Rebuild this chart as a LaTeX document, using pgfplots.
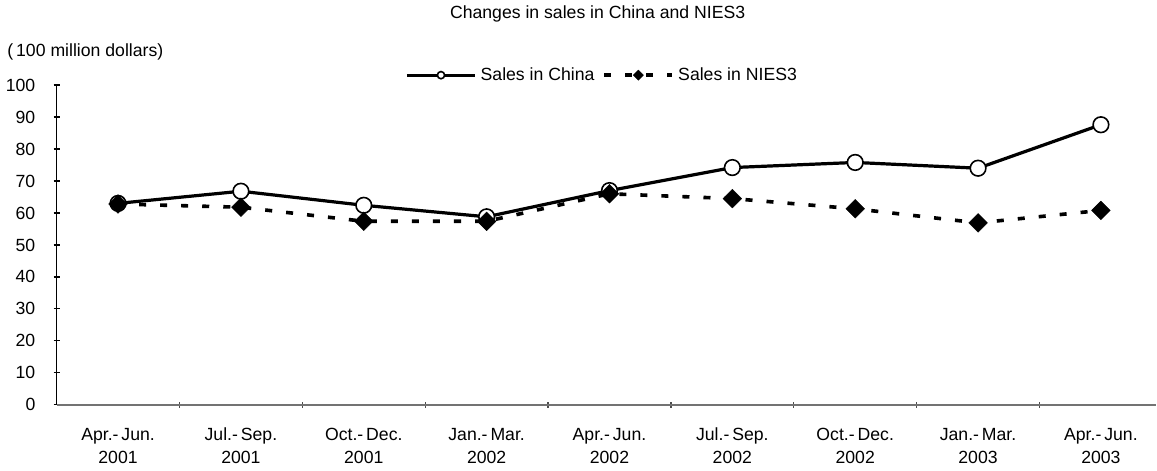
\documentclass[border=0pt]{standalone}
\usepackage{fontspec}
\setmainfont{Liberation Sans}
\usepackage{pgfplots}
\pgfplotsset{compat=1.18}
\begin{document}
\fontsize{8.8}{10.5}\selectfont
\begin{tikzpicture}
\begin{axis}[
  scale only axis,
  width=548.5pt, height=159.5pt,
  xmin=-0.5, xmax=8.45,
  ymin=0, ymax=100,
  axis x line=bottom, axis y line=left,
  axis line style={-},
  x axis line style={draw=black!55, line width=0.8pt},
  y axis line style={draw=black, line width=0.8pt},
  xtick={0,...,8},
  xticklabels={{Apr.-\,Jun.\\2001},{Jul.-\,Sep.\\2001},{Oct.-\,Dec.\\2001},{Jan.-\,Mar.\\2002},{Apr.-\,Jun.\\2002},{Jul.-\,Sep.\\2002},{Oct.-\,Dec.\\2002},{Jan.-\,Mar.\\2003},{Apr.-\,Jun.\\2003}},
  xticklabel style={align=center, font=\fontsize{8.8}{11.5}\selectfont, yshift=-7pt},
  major x tick style={draw=none},
  minor xtick={0.5,1.5,...,7.5},
  minor x tick style={draw=black!70, line width=0.6pt},
  minor tick length=3pt,
  ytick={0,10,...,100},
  major y tick style={draw=black, line width=0.6pt},
  major tick length=3pt,
  yticklabel style={font=\fontsize{8.8}{10.5}\selectfont, xshift=-6pt},
  /pgf/number format/assume math mode=true,
  clip=false,
  legend style={draw=none, fill=none, at={(0.497,1.031)}, anchor=center, legend columns=2, font=\fontsize{8.8}{10.5}\selectfont, /tikz/every even column/.append style={column sep=2pt}},
  legend image code/.code={%
    \draw[#1, mark=none] (0pt,0pt) -- (34pt,0pt);
    \draw[#1, mark size=1.8pt] plot coordinates {(17pt,0pt)};},
]
\addplot[black, line width=1.6pt, mark=*, mark options={fill=white, draw=black, line width=0.8pt, solid}, mark size=3.9pt]
  coordinates {(0,63.0) (1,66.8) (2,62.4) (3,58.8) (4,67.0) (5,74.2) (6,75.8) (7,74.0) (8,87.6)};
\addlegendentry{Sales in China}
\addplot[black, line width=1.8pt, dash pattern=on 3.5pt off 7pt, mark=square*, mark options={fill=black, draw=black, solid, rotate=45, line width=0.2pt}, mark size=3.3pt]
  coordinates {(0,62.8) (1,61.8) (2,57.4) (3,57.4) (4,66.0) (5,64.5) (6,61.3) (7,56.9) (8,60.8)};
\addlegendentry{Sales in NIES3}
\node[anchor=west] at (rel axis cs:-0.0505,1.103) {(\,100 million dollars)};
\node[anchor=center] at (rel axis cs:0.492,1.222) {Changes in sales in China and NIES3};
\end{axis}
\end{tikzpicture}
\end{document}
